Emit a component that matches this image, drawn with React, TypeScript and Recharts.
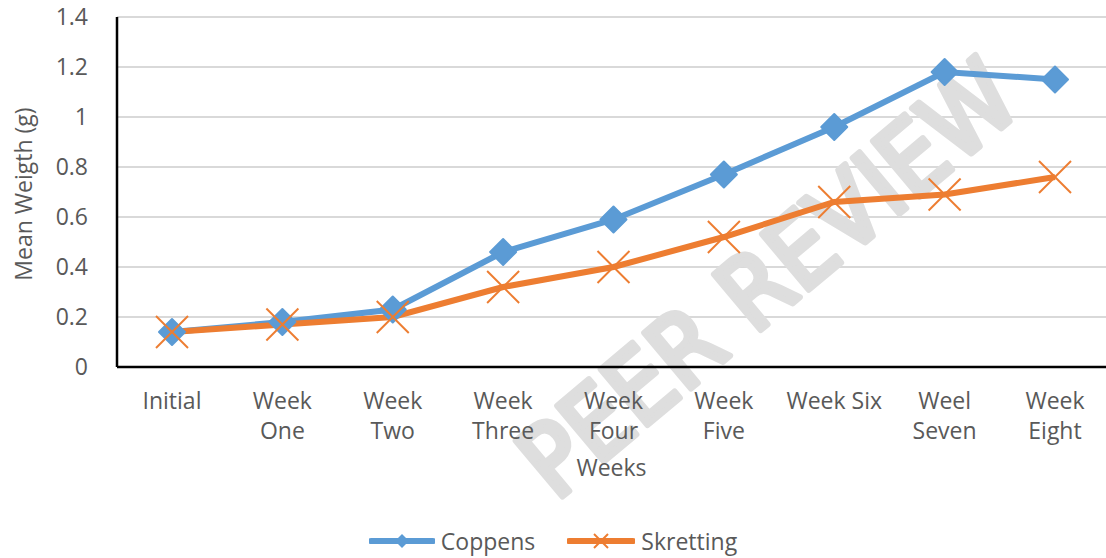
import React from "react";
import {
  LineChart,
  Line,
  XAxis,
  YAxis,
  CartesianGrid,
  Legend,
  Customized,
} from "recharts";

// categories and values
const weeks = [
  "Initial",
  "Week One",
  "Week Two",
  "Week Three",
  "Week Four",
  "Week Five",
  "Week Six",
  "Weel Seven",
  "Week Eight",
];
const weekTicks = [
  "Initial",
  "Week\nOne",
  "Week\nTwo",
  "Week\nThree",
  "Week\nFour",
  "Week\nFive",
  "Week Six",
  "Weel\nSeven",
  "Week\nEight",
];
const coppens = [0.14, 0.18, 0.23, 0.46, 0.59, 0.77, 0.96, 1.18, 1.15];
const skretting = [0.14, 0.17, 0.2, 0.32, 0.4, 0.52, 0.66, 0.69, 0.76];
const yTicks = [0, 0.2, 0.4, 0.6, 0.8, 1, 1.2, 1.4];

const BLUE = "#5B9BD5";
const ORANGE = "#ED7D31";
const TEXT = "#595959";
const FONT = "'Open Sans', sans-serif";

const data = weeks.map((w, i) => ({
  week: w,
  Coppens: coppens[i],
  Skretting: skretting[i],
}));

// diamond marker
const Diamond = (props: any) => {
  const { cx, cy } = props;
  const r = 13;
  return (
    <path
      d={`M${cx} ${cy - r} L${cx + r} ${cy} L${cx} ${cy + r} L${cx - r} ${cy} Z`}
      fill={BLUE}
      stroke={BLUE}
      strokeWidth={2}
      strokeLinejoin="round"
    />
  );
};

// x marker
const Cross = (props: any) => {
  const { cx, cy } = props;
  const r = 16;
  return (
    <g stroke={ORANGE} strokeWidth={2}>
      <line x1={cx - r} y1={cy - r} x2={cx + r} y2={cy + r} />
      <line x1={cx - r} y1={cy + r} x2={cx + r} y2={cy - r} />
    </g>
  );
};

const WeekTick = (props: any) => {
  const { x, y, payload } = props;
  const idx = weeks.indexOf(payload.value);
  const lines = (weekTicks[idx] ?? payload.value).split("\n");
  return (
    <text x={x} y={y} textAnchor="middle" fill={TEXT} fontSize={23} fontFamily={FONT}>
      {lines.map((l: string, i: number) => (
        <tspan key={i} x={x} dy={i === 0 ? 40 : 30}>
          {l}
        </tspan>
      ))}
    </text>
  );
};

// 透かし
const Watermark = () => (
  <text
    x={768}
    y={279}
    textAnchor="middle"
    dominantBaseline="central"
    transform="rotate(-40 768 279)"
    fontSize={100}
    fontFamily="'DejaVu Sans Condensed', 'DejaVu Sans', sans-serif"
    fill="#dedede"
    stroke="#dedede"
    strokeWidth={6}
    strokeLinejoin="round"
  >
    PEER REVIEW
  </text>
);

const renderLegend = () => (
  <div
    style={{
      display: "flex",
      justifyContent: "center",
      alignItems: "center",
      height: 34,
      fontFamily: FONT,
      fontSize: 23,
      color: TEXT,
    }}
  >
    <svg width={66} height={20} style={{ marginRight: 6 }}>
      <line x1={2} y1={10} x2={64} y2={10} stroke={BLUE} strokeWidth={6} strokeLinecap="round" />
      <path d="M33 3 L40 10 L33 17 L26 10 Z" fill={BLUE} />
    </svg>
    <span style={{ marginRight: 32 }}>Coppens</span>
    <svg width={68} height={20} style={{ marginRight: 6 }}>
      <line x1={2} y1={10} x2={66} y2={10} stroke={ORANGE} strokeWidth={6} strokeLinecap="round" />
      <g stroke={ORANGE} strokeWidth={2}>
        <line x1={27} y1={3} x2={41} y2={17} />
        <line x1={27} y1={17} x2={41} y2={3} />
      </g>
    </svg>
    <span>Skretting</span>
  </div>
);

export default function App() {
  return (
    <div style={{ position: "absolute", left: 0, top: 0, width: 1106, height: 558, background: "#fff" }}>
      <LineChart
        width={1106}
        height={558}
        data={data}
        margin={{ top: 17, right: 0, bottom: 0, left: 0 }}
      >
        {/* 目盛り線 */}
        <CartesianGrid vertical={false} stroke="#d9d9d9" strokeWidth={2} />
        <Customized component={Watermark} />
        <XAxis
          dataKey="week"
          interval={0}
          padding={{ left: 55, right: 51 }}
          height={157}
          tickLine={false}
          tickSize={0}
          tick={<WeekTick />}
          axisLine={{ stroke: "#000", strokeWidth: 2.5 }}
          label={({ viewBox }: any) => (
            <text
              x={viewBox.x + viewBox.width / 2}
              y={476}
              textAnchor="middle"
              fill={TEXT}
              fontSize={23}
              fontFamily={FONT}
            >
              Weeks
            </text>
          )}
        />
        <YAxis
          width={117}
          domain={[0, 1.4]}
          ticks={yTicks}
          tickLine={false}
          tickSize={0}
          tickMargin={29}
          axisLine={{ stroke: "#000", strokeWidth: 2.5 }}
          tick={{ fill: TEXT, fontSize: 23, fontFamily: FONT }}
          label={({ viewBox }: any) => (
            <text
              x={32}
              y={viewBox.y + viewBox.height / 2 + 2}
              textAnchor="middle"
              transform={`rotate(-90 32 ${viewBox.y + viewBox.height / 2 + 2})`}
              fill={TEXT}
              fontSize={23}
              fontFamily={FONT}
            >
              Mean Weigth (g)
            </text>
          )}
        />
        <Line
          dataKey="Coppens"
          stroke={BLUE}
          strokeWidth={6}
          dot={<Diamond />}
          activeDot={false}
          isAnimationActive={false}
        />
        <Line
          dataKey="Skretting"
          stroke={ORANGE}
          strokeWidth={6}
          dot={<Cross />}
          activeDot={false}
          isAnimationActive={false}
        />
        {/* 凡例 */}
        <Legend verticalAlign="bottom" height={34} content={renderLegend} />
      </LineChart>
    </div>
  );
}
